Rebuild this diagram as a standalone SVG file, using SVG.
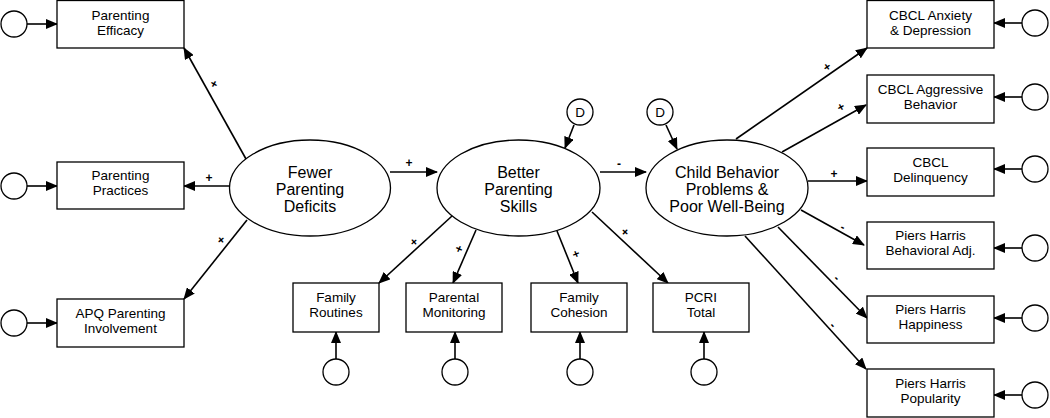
<svg xmlns="http://www.w3.org/2000/svg" width="1050" height="418" viewBox="0 0 1050 418">
<style>
.box{fill:#fff;stroke:#000;stroke-width:1.3}
.el{fill:#fff;stroke:#000;stroke-width:1.3}
.t{font-family:"Liberation Sans",Arial,sans-serif;font-size:13.5px;fill:#000;text-anchor:middle}
.te{font-family:"Liberation Sans",Arial,sans-serif;font-size:16px;fill:#000;text-anchor:middle}
.lbl{font-family:"Liberation Sans",Arial,sans-serif;font-size:12px;font-weight:bold;fill:#000;text-anchor:middle}
.c line{stroke:#000;stroke-width:1.6;marker-end:url(#ah)}
</style>
<defs>
<marker id="ah" markerUnits="userSpaceOnUse" markerWidth="12" markerHeight="10" refX="11" refY="5" orient="auto">
<path d="M0,0 L12,5 L0,10 Z" fill="#000"/>
</marker>
</defs>
<rect width="1050" height="418" fill="#fff"/>
<g class="c" id="connectors">
<line x1="27" y1="24" x2="57" y2="24"/>
<line x1="27" y1="186" x2="57" y2="186"/>
<line x1="27" y1="323" x2="57" y2="323"/>
<line x1="1022" y1="23" x2="994" y2="23"/>
<line x1="1022" y1="97" x2="994" y2="97"/>
<line x1="1022" y1="169" x2="994" y2="169"/>
<line x1="1022" y1="248" x2="994" y2="248"/>
<line x1="1022" y1="318" x2="994" y2="318"/>
<line x1="1022" y1="395" x2="994" y2="395"/>
<line x1="336" y1="359" x2="336" y2="332"/>
<line x1="455" y1="359" x2="455" y2="332"/>
<line x1="580" y1="359" x2="580" y2="332"/>
<line x1="704" y1="359" x2="704" y2="332"/>
<line x1="574" y1="125" x2="565" y2="148"/>
<line x1="666" y1="125" x2="677" y2="149"/>
<line x1="246" y1="159" x2="184" y2="48"/>
<line x1="229" y1="186" x2="184" y2="186"/>
<line x1="247" y1="220" x2="184" y2="299"/>
<line x1="390" y1="172" x2="437" y2="172"/>
<line x1="600" y1="172" x2="646" y2="172"/>
<line x1="452" y1="216" x2="379" y2="283"/>
<line x1="476" y1="230" x2="453" y2="283"/>
<line x1="557" y1="231" x2="578" y2="283"/>
<line x1="592" y1="212" x2="668" y2="283"/>
<line x1="736" y1="139" x2="867" y2="48"/>
<line x1="782" y1="152" x2="866" y2="105"/>
<line x1="808" y1="181" x2="867" y2="181"/>
<line x1="801" y1="210" x2="864" y2="245"/>
<line x1="778" y1="227" x2="867" y2="318"/>
<line x1="745" y1="236" x2="866" y2="369"/>
</g>
<g id="labels">
<text class="lbl" x="214" y="88" transform="rotate(-61 214 84)">+</text>
<text class="lbl" x="209" y="182">+</text>
<text class="lbl" x="221" y="244" transform="rotate(51 221 240)">+</text>
<text class="lbl" x="409" y="167">+</text>
<text class="lbl" x="619" y="168">-</text>
<text class="lbl" x="414" y="246" transform="rotate(-42 414 242)">+</text>
<text class="lbl" x="459" y="253" transform="rotate(-66 459 249)">+</text>
<text class="lbl" x="576" y="258" transform="rotate(68 576 254)">+</text>
<text class="lbl" x="625" y="236" transform="rotate(43 625 232)">+</text>
<text class="lbl" x="827" y="71" transform="rotate(-35 827 67)">+</text>
<text class="lbl" x="841" y="111" transform="rotate(-29 841 107)">+</text>
<text class="lbl" x="834" y="178">+</text>
<text class="lbl" x="843" y="231" transform="rotate(29 843 227)">-</text>
<text class="lbl" x="837" y="282" transform="rotate(46 837 278)">-</text>
<text class="lbl" x="833" y="329" transform="rotate(48 833 325)">-</text>
</g>
<g id="e_eff"><circle class="el" cx="14" cy="24" r="13"/></g>
<g id="e_prac"><circle class="el" cx="14" cy="186" r="13"/></g>
<g id="e_apq"><circle class="el" cx="14" cy="323" r="13"/></g>
<g id="parenting_efficacy"><rect class="box" x="57" y="0.5" width="127" height="47.5"/><text class="t" x="120.5" y="20">Parenting</text><text class="t" x="120.5" y="35">Efficacy</text></g>
<g id="parenting_practices"><rect class="box" x="57" y="162" width="127" height="47"/><text class="t" x="120.5" y="180">Parenting</text><text class="t" x="120.5" y="195">Practices</text></g>
<g id="apq"><rect class="box" x="57" y="299" width="127" height="48"/><text class="t" x="120.5" y="318">APQ Parenting</text><text class="t" x="120.5" y="333">Involvement</text></g>
<g id="fewer"><ellipse class="el" cx="310" cy="188" rx="80.5" ry="48"/><text class="te" x="310" y="178">Fewer</text><text class="te" x="310" y="195">Parenting</text><text class="te" x="310" y="212">Deficits</text></g>
<g id="better"><ellipse class="el" cx="518.5" cy="188" rx="81.5" ry="48"/><text class="te" x="518.5" y="178">Better</text><text class="te" x="518.5" y="195">Parenting</text><text class="te" x="518.5" y="212">Skills</text></g>
<g id="child"><ellipse class="el" cx="727" cy="188" rx="81" ry="48"/><text class="te" x="727" y="178">Child Behavior</text><text class="te" x="727" y="195">Problems &amp;</text><text class="te" x="727" y="212">Poor Well-Being</text></g>
<g id="d1"><circle class="el" cx="580" cy="112" r="13"/><text class="t" x="580" y="117">D</text></g>
<g id="d2"><circle class="el" cx="660" cy="112" r="13"/><text class="t" x="660" y="117">D</text></g>
<g id="family_routines"><rect class="box" x="293" y="283" width="86" height="49"/><text class="t" x="336" y="302">Family</text><text class="t" x="336" y="317">Routines</text></g>
<g id="parental_monitoring"><rect class="box" x="406" y="283" width="96" height="49"/><text class="t" x="454" y="302">Parental</text><text class="t" x="454" y="317">Monitoring</text></g>
<g id="family_cohesion"><rect class="box" x="531" y="283" width="96" height="49"/><text class="t" x="579" y="302">Family</text><text class="t" x="579" y="317">Cohesion</text></g>
<g id="pcri"><rect class="box" x="653" y="283" width="96" height="49"/><text class="t" x="701" y="302">PCRI</text><text class="t" x="701" y="317">Total</text></g>
<g id="e_fr"><circle class="el" cx="336" cy="372" r="13"/></g>
<g id="e_pm"><circle class="el" cx="455" cy="372" r="13"/></g>
<g id="e_fc"><circle class="el" cx="580" cy="372" r="13"/></g>
<g id="e_pcri"><circle class="el" cx="704" cy="372" r="13"/></g>
<g id="cbcl_anx"><rect class="box" x="867" y="0.5" width="127" height="47.5"/><text class="t" x="930.5" y="20">CBCL Anxiety</text><text class="t" x="930.5" y="35">&amp; Depression</text></g>
<g id="cbcl_agg"><rect class="box" x="867" y="75" width="127" height="48"/><text class="t" x="930.5" y="94">CBCL Aggressive</text><text class="t" x="930.5" y="109">Behavior</text></g>
<g id="cbcl_del"><rect class="box" x="867" y="148" width="127" height="48"/><text class="t" x="930.5" y="167">CBCL</text><text class="t" x="930.5" y="182">Delinquency</text></g>
<g id="ph_beh"><rect class="box" x="867" y="222" width="127" height="47"/><text class="t" x="930.5" y="240">Piers Harris</text><text class="t" x="930.5" y="255">Behavioral Adj.</text></g>
<g id="ph_hap"><rect class="box" x="867" y="296" width="127" height="47"/><text class="t" x="930.5" y="314">Piers Harris</text><text class="t" x="930.5" y="329">Happiness</text></g>
<g id="ph_pop"><rect class="box" x="867" y="369" width="127" height="48"/><text class="t" x="930.5" y="388">Piers Harris</text><text class="t" x="930.5" y="403">Popularity</text></g>
<g id="e_anx"><circle class="el" cx="1035" cy="23" r="13"/></g>
<g id="e_agg"><circle class="el" cx="1035" cy="97" r="13"/></g>
<g id="e_del"><circle class="el" cx="1035" cy="169" r="13"/></g>
<g id="e_beh"><circle class="el" cx="1035" cy="248" r="13"/></g>
<g id="e_hap"><circle class="el" cx="1035" cy="318" r="13"/></g>
<g id="e_pop"><circle class="el" cx="1035" cy="395" r="13"/></g>
</svg>
